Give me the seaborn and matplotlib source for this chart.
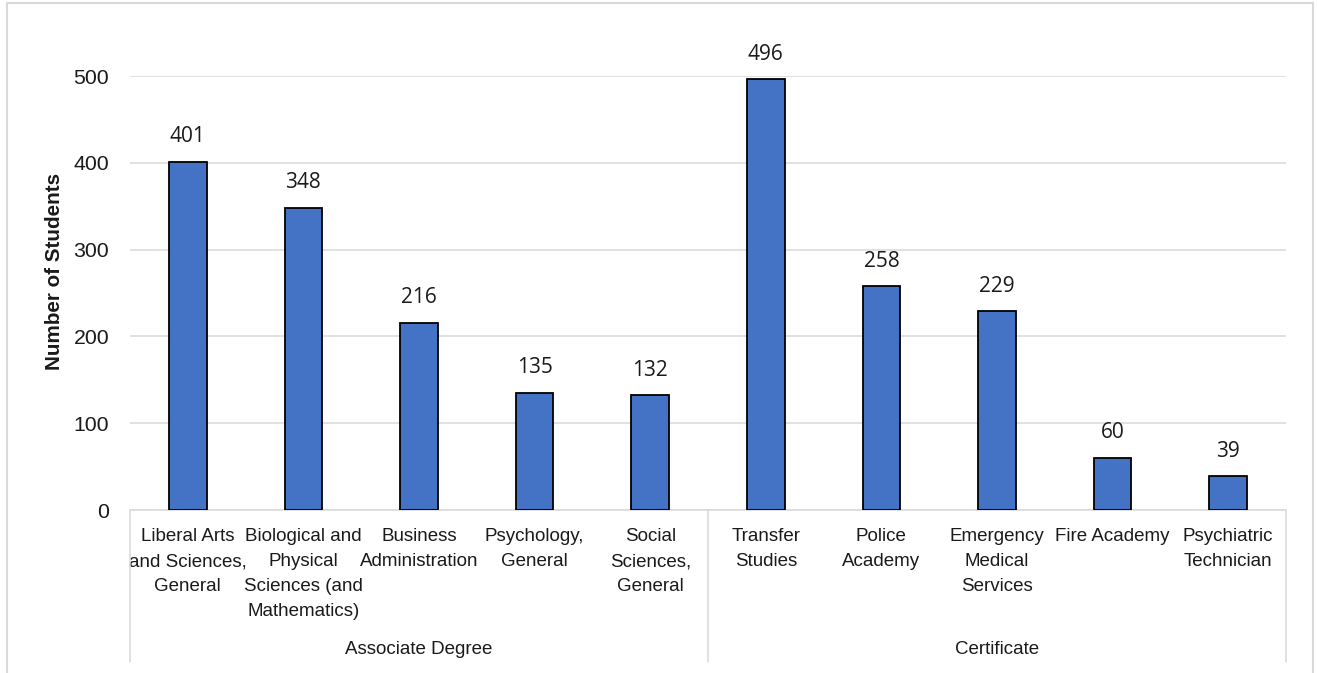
import matplotlib
matplotlib.use("Agg")
import matplotlib.pyplot as plt
from matplotlib import font_manager
from matplotlib.lines import Line2D
import seaborn as sns
import pandas as pd

# ---- data ----
programs = [
    "Liberal Arts\nand Sciences,\nGeneral",
    "Biological and\nPhysical\nSciences (and\nMathematics)",
    "Business\nAdministration",
    "Psychology,\nGeneral",
    "Social\nSciences,\nGeneral",
    "Transfer\nStudies",
    "Police\nAcademy",
    "Emergency\nMedical\nServices",
    "Fire Academy",
    "Psychiatric\nTechnician",
]
groups = ["Associate Degree"] * 5 + ["Certificate"] * 5
group_names = ["Associate Degree", "Certificate"]
students = [401, 348, 216, 135, 132, 496, 258, 229, 60, 39]
y_ticks = [0, 100, 200, 300, 400, 500]

sns.set_theme(style="white")

names = {f.name for f in font_manager.fontManager.ttflist}
narrow = "Liberation Sans Narrow" if "Liberation Sans Narrow" in names else "Liberation Sans"
scale = 1.0 if narrow == "Liberation Sans Narrow" else 0.9
plt.rcParams["font.family"] = [narrow, "DejaVu Sans"]

W, H = 1317, 673
fig = plt.figure(figsize=(W / 100, H / 100), dpi=100)
ax = fig.add_axes([130 / W, (H - 510) / H, (1286 - 130) / W, (510 - 76) / H])

df = pd.DataFrame({"program": programs, "students": students, "group": groups})
sns.barplot(data=df, x="program", y="students", color="#4472C4", saturation=1,
            edgecolor="black", linewidth=1.3, width=0.325, ax=ax, zorder=3)

ax.set_ylim(0, 500)
ax.set_xlim(-0.5, len(programs) - 0.5)
ax.set_yticks(y_ticks)
ax.set_yticklabels([str(t) for t in y_ticks], fontsize=17 * scale, color="#1a1a1a")
ax.tick_params(axis="y", length=0, pad=15)
ax.yaxis.grid(True, color="#D9D9D9", linewidth=1.1, zorder=0)
ax.xaxis.grid(False)
for s in ["top", "right", "left"]:
    ax.spines[s].set_visible(False)
ax.spines["bottom"].set_color("#D9D9D9")
ax.spines["bottom"].set_linewidth(1.1)
ax.spines["bottom"].set_zorder(2)

ax.set_xticks(range(len(programs)))
ax.set_xticklabels(programs, fontsize=15 * scale, color="#1a1a1a", linespacing=1.62,
                   va="top")
ax.tick_params(axis="x", length=0, pad=13)
ax.set_xlabel("")
ax.set_ylabel("Number of Students", fontsize=16.5 * scale, fontweight="bold",
              color="#1a1a1a")
ax.yaxis.set_label_coords(-(130 - 64) / (1286 - 130), 0.5 - (271 - 293) / (510 - 76))

# value labels
for i, v in enumerate(students):
    ax.annotate(str(v), (i, v), xytext=(0, 18), textcoords="offset points",
                ha="center", va="center", fontsize=15, family=["Open Sans", "DejaVu Sans"],
                color="#1a1a1a")

# group labels and box lines for the multi-level category axis
def fy(py):
    return (H - py) / H

def fx(px):
    return px / W

for px in [130, 708, 1286]:
    fig.add_artist(Line2D([fx(px), fx(px)], [fy(510), fy(662)], color="#D9D9D9", lw=1.1))
n = len(programs)
for k, g in enumerate(group_names):
    idx = [i for i, gg in enumerate(groups) if gg == g]
    xc = (idx[0] + idx[-1]) / 2
    xpix = 130 + (xc + 0.5) / n * (1286 - 130)
    fig.text(fx(xpix), fy(650), g, ha="center", va="center",
             fontsize=15 * scale, color="#1a1a1a")

# outer chart border
for xs, ys in [([7, 7], [3, 673]), ([1313, 1313], [3, 673]), ([7, 1313], [3, 3])]:
    fig.add_artist(Line2D([fx(x) for x in xs], [fy(y) for y in ys], color="#D9D9D9", lw=1.5))

fig.savefig("out.png", dpi=100, facecolor="white")
